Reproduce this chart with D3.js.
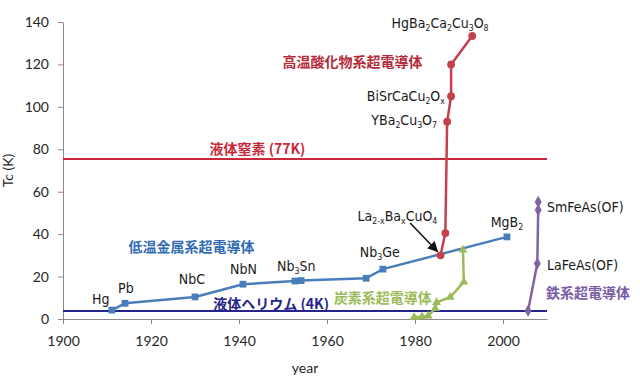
<!DOCTYPE html>
<html>
<meta charset="utf-8">
<head>
<script src="https://cdnjs.cloudflare.com/ajax/libs/d3/7.8.5/d3.min.js"></script>
<style>
  body { margin: 0; background: #fff; }
</style>
</head>
<body>
<script>
const svgWidth = 640, svgHeight = 380;
const margin = {top: 22, right: 93, bottom: 61, left: 63};

// 低温金属系超電導体
const metalYears = [1911.1, 1914.1, 1930, 1940.9, 1952.7, 1954.1, 1968.9, 1972.7, 2000.9];
const metalTc    = [4.2, 7.4, 10.4, 16.4, 17.9, 18.1, 19.2, 23.5, 38.7];
// 高温酸化物系超電導体
const oxideYears = [1985.8, 1986.9, 1987.3, 1988.2, 1988.2, 1993];
const oxideTc    = [30, 40.5, 93, 105, 120, 133.4];
// 炭素系超電導体
const carbonYears = [1979.8, 1981.6, 1983, 1984.6, 1984.9, 1988, 1991.1, 1990.9];
const carbonTc    = [0.9, 1.1, 1.5, 5, 7.8, 10.3, 17.5, 32.6];
// 鉄系超電導体
const ironYears = [2005.7, 2007.8, 2008, 2008];
const ironTc    = [3.9, 26.2, 51.4, 55.2];

// 冷媒の温度線
const refNames = ["液体窒素 (77K)", "液体ヘリウム (4K)"];
const refTc    = [75.4, 3.8];

const xTicks = [1900, 1920, 1940, 1960, 1980, 2000];
const yTicks = [0, 20, 40, 60, 80, 100, 120, 140];

const x = d3.scaleLinear().domain([1900, 2010]).range([margin.left, svgWidth - margin.right]);
const y = d3.scaleLinear().domain([0, 140]).range([svgHeight - margin.bottom, margin.top]);

const svg = d3.select("body").append("svg")
  .attr("width", svgWidth)
  .attr("height", svgHeight);

const tickFont = "Lato, 'Open Sans', sans-serif";
const labelFont = "'Liberation Sans Narrow', 'DejaVu Sans Condensed', 'Liberation Sans', sans-serif";
const cjkFont = "'Noto Sans CJK JP', 'Noto Sans', sans-serif";

// axes
const xAxis = d3.axisBottom(x).tickValues(xTicks).tickFormat(d3.format("d")).tickSize(5).tickSizeOuter(0).tickPadding(9);
const yAxis = d3.axisLeft(y).tickValues(yTicks).tickSize(5).tickSizeOuter(0).tickPadding(9);

const gx = svg.append("g").attr("transform", `translate(0,${y(0)})`).call(xAxis);
const gy = svg.append("g").attr("transform", `translate(${x(1900)},0)`).call(yAxis);
[gx, gy].forEach(g => {
  g.select(".domain").attr("stroke", "#8a8a8a");
  g.selectAll(".tick line").attr("stroke", "#8a8a8a");
  g.selectAll(".tick text").attr("font-family", tickFont).attr("font-size", 14).attr("fill", "#262626");
});
gx.selectAll(".tick text").attr("dy", "0.95em");

svg.append("text")
  .attr("x", x(1955)).attr("y", 373)
  .attr("text-anchor", "middle")
  .attr("font-family", tickFont).attr("font-size", 14).attr("fill", "#262626")
  .text("year");

svg.append("text")
  .attr("transform", `translate(13,${y(70)}) rotate(-90)`)
  .attr("text-anchor", "middle")
  .attr("font-family", tickFont).attr("font-size", 14).attr("fill", "#262626")
  .text("Tc (K)");

// reference lines
const refColors = ["#c8283a", "#24248a"];
svg.selectAll(".ref")
  .data(refTc)
  .enter().append("line")
  .attr("x1", x(1900)).attr("x2", x(2010))
  .attr("y1", d => y(d)).attr("y2", d => y(d))
  .attr("stroke", (d, i) => refColors[i])
  .attr("stroke-width", 2);

// series
const series = [
  {years: metalYears, tc: metalTc, color: "#4a7ebb", symbol: d3.symbolSquare, size: 46},
  {years: oxideYears, tc: oxideTc, color: "#c4404a", symbol: d3.symbolCircle, size: 48},
  {years: carbonYears, tc: carbonTc, color: "#9bbb59", symbol: d3.symbolTriangle, size: 34},
  {years: ironYears, tc: ironTc, color: "#8064a2", symbol: d3.symbolDiamond, size: 42}
];

const line = d3.line().x(d => x(d[0])).y(d => y(d[1]));

series.forEach(s => {
  const pts = s.years.map((yr, i) => [yr, s.tc[i]]);
  svg.append("path")
    .attr("d", line(pts))
    .attr("fill", "none")
    .attr("stroke", s.color)
    .attr("stroke-width", 2.5)
    .attr("stroke-linejoin", "round");
  svg.selectAll(null)
    .data(pts)
    .enter().append("path")
    .attr("d", d3.symbol().type(s.symbol).size(s.size))
    .attr("transform", d => `translate(${x(d[0])},${y(d[1])})`)
    .attr("fill", s.color);
});

// text with subscripts: "Nb_3Ge", "La_{2-x}Ba_xCuO_4"
function richText(sel, str, size) {
  const re = /_\{([^}]*)\}|_(.)|([^_]+)/g;
  let m, down = false;
  while ((m = re.exec(str))) {
    const sub = !m[3];
    const ts = sel.append("tspan").text(sub ? (m[1] || m[2]) : m[3]);
    if (sub) {
      ts.attr("font-size", size * 0.62);
      if (!down) { ts.attr("dy", 3); down = true; }
    } else if (down) {
      ts.attr("dy", -3); down = false;
    }
  }
}

// material names
const materials = [
  {t: "Hg", yr: 1908.6, tc: 9.4, a: "middle"},
  {t: "Pb", yr: 1914.3, tc: 14.6, a: "middle"},
  {t: "NbC", yr: 1929.3, tc: 18.9, a: "middle"},
  {t: "NbN", yr: 1941, tc: 23.6, a: "middle"},
  {t: "Nb_3Sn", yr: 1953, tc: 25, a: "middle"},
  {t: "Nb_3Ge", yr: 1972, tc: 31.6, a: "middle"},
  {t: "La_{2-x}Ba_xCuO_4", yr: 1976, tc: 48.6, a: "middle"},
  {t: "MgB_2", yr: 2000.9, tc: 45.7, a: "middle"},
  {t: "HgBa_2Ca_2Cu_3O_8", yr: 1985.7, tc: 139.6, a: "middle"},
  {t: "BiSrCaCu_2O_x", yr: 1986.8, tc: 105.1, a: "end"},
  {t: "YBa_2Cu_3O_7", yr: 1985, tc: 94, a: "end"},
  {t: "SmFeAs(OF)", yr: 2010, tc: 52.8, a: "start"},
  {t: "LaFeAs(OF)", yr: 2010, tc: 25.5, a: "start"}
];
materials.forEach(d => {
  const t = svg.append("text")
    .attr("x", x(d.yr)).attr("y", y(d.tc) + 5)
    .attr("text-anchor", d.a)
    .attr("font-family", labelFont).attr("font-size", 14)
    .attr("fill", "#1a1a1a");
  richText(t, d.t, 14);
});

// group names
const groups = [
  {t: "高温酸化物系超電導体", yr: 1965.8, tc: 121.2, a: "middle", c: "#b52a38"},
  {t: refNames[0], yr: 1944.2, tc: 80.2, a: "middle", c: "#c8283a"},
  {t: "低温金属系超電導体", yr: 1929.2, tc: 33.9, a: "middle", c: "#2f6cb3"},
  {t: refNames[1], yr: 1947.3, tc: 7.3, a: "middle", c: "#24248a"},
  {t: "炭素系超電導体", yr: 1972.7, tc: 9.9, a: "middle", c: "#9bbb59"},
  {t: "鉄系超電導体", yr: 2009.8, tc: 12.3, a: "start", c: "#7a5ca8"}
];
svg.selectAll(".group")
  .data(groups)
  .enter().append("text")
  .attr("x", d => x(d.yr)).attr("y", d => y(d.tc) + 5)
  .attr("text-anchor", d => d.a)
  .attr("font-family", cjkFont).attr("font-size", 14).attr("font-weight", "bold")
  .attr("fill", d => d.c)
  .text(d => d.t);

// arrow to La-Ba-Cu-O
svg.append("defs").append("marker")
  .attr("id", "head")
  .attr("viewBox", "0 0 10 10")
  .attr("refX", 9).attr("refY", 5)
  .attr("markerWidth", 7).attr("markerHeight", 7)
  .attr("orient", "auto")
  .append("path").attr("d", "M0,0L10,5L0,10z").attr("fill", "#111");
svg.append("line")
  .attr("x1", x(1978.9)).attr("y1", y(45.3))
  .attr("x2", x(1985.1)).attr("y2", y(31.8))
  .attr("stroke", "#111").attr("stroke-width", 1.5)
  .attr("marker-end", "url(#head)");
</script>
</body>
</html>
